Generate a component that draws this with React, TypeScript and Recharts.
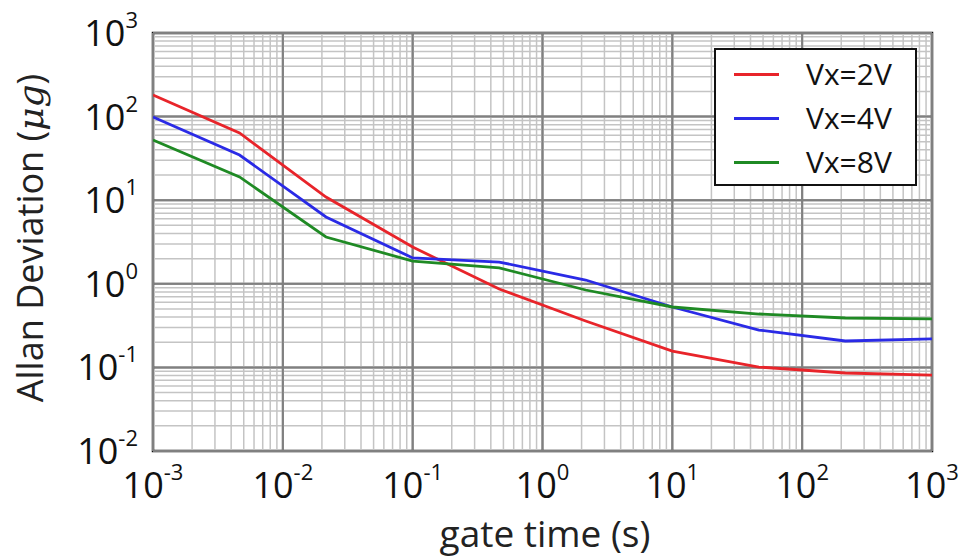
import React from "react";
import {
  LineChart,
  Line,
  XAxis,
  YAxis,
  CartesianGrid,
  ReferenceLine,
  ReferenceArea,
} from "recharts";

// gate times (s)
const tau = [0.001, 0.00464, 0.0215, 0.1, 0.464, 2.15, 10, 46.4, 215, 1000];
const vx2 = [181, 63.7, 10.9, 2.75, 0.867, 0.359, 0.157, 0.101, 0.0857, 0.081];
const vx4 = [98.9, 34.7, 6.3, 2.04, 1.82, 1.11, 0.528, 0.28, 0.207, 0.219];
const vx8 = [52.5, 19.0, 3.63, 1.87, 1.55, 0.843, 0.528, 0.435, 0.39, 0.38];

const xTicks = [1e-3, 1e-2, 1e-1, 1, 10, 100, 1000];
const yTicks = [1e-2, 1e-1, 1, 10, 100, 1000];

const seriesNames = ["Vx=2V", "Vx=4V", "Vx=8V"];
const COLORS = ["#e8242a", "#2a2ae6", "#1f8a24"];

const data = tau.map((t, i) => ({ t, v2: vx2[i], v4: vx4[i], v8: vx8[i] }));

const minors = (ticks: number[]) => {
  const out: number[] = [];
  for (let i = 0; i < ticks.length - 1; i++) {
    for (let m = 2; m <= 9; m++) out.push(+(ticks[i] * m).toPrecision(3));
  }
  return out;
};

const FONT = "'Open Sans', 'DejaVu Sans', sans-serif";

const XTick = ({ x, y, payload }: any) => {
  const e = Math.round(Math.log10(payload.value));
  return (
    <text x={x} y={y + 47} textAnchor="middle" fontSize={36} fill="#111" fontFamily={FONT}>
      <tspan>10</tspan>
      <tspan dy={-18} fontSize={22}>{e}</tspan>
    </text>
  );
};

const YTick = ({ x, y, payload }: any) => {
  const e = Math.round(Math.log10(payload.value));
  return (
    <text x={x - 15} y={y + 13} textAnchor="end" fontSize={36} fill="#111" fontFamily={FONT}>
      <tspan>10</tspan>
      <tspan dy={-18} fontSize={22}>{e}</tspan>
    </text>
  );
};

export default function App() {
  return (
    <div style={{ position: "absolute", left: 0, top: 0, width: 961, height: 560, background: "#fff" }}>
      <LineChart
        width={961}
        height={560}
        data={data}
        margin={{ top: 33, right: 29, left: 0, bottom: 0 }}
      >
        <CartesianGrid
          stroke="#808080"
          strokeWidth={2}
          horizontalValues={yTicks}
          verticalValues={xTicks}
        />
        {minors(xTicks).map((v) => (
          <ReferenceLine key={"x" + v} x={v} stroke="#c4c4c4" strokeWidth={1.5} />
        ))}
        {minors(yTicks).map((v) => (
          <ReferenceLine key={"y" + v} y={v} stroke="#c4c4c4" strokeWidth={1.5} />
        ))}
        {xTicks.map((v) => (
          <ReferenceLine key={"X" + v} x={v} stroke="#808080" strokeWidth={2} />
        ))}
        {yTicks.map((v) => (
          <ReferenceLine key={"Y" + v} y={v} stroke="#808080" strokeWidth={2} />
        ))}
        <XAxis
          dataKey="t"
          type="number"
          scale="log"
          domain={[1e-3, 1e3]}
          ticks={xTicks}
          allowDataOverflow
          height={109}
          axisLine={false}
          tickLine={false}
          tickSize={0}
          tickMargin={0}
          tick={<XTick />}
          interval={0}
        />
        <YAxis
          type="number"
          scale="log"
          domain={[1e-2, 1e3]}
          ticks={yTicks}
          allowDataOverflow
          width={153}
          axisLine={false}
          tickLine={false}
          tickSize={0}
          tickMargin={0}
          tick={<YTick />}
          interval={0}
        />
        <Line dataKey="v2" stroke={COLORS[0]} strokeWidth={2.8} dot={false} isAnimationActive={false} />
        <Line dataKey="v4" stroke={COLORS[1]} strokeWidth={2.8} dot={false} isAnimationActive={false} />
        <Line dataKey="v8" stroke={COLORS[2]} strokeWidth={2.8} dot={false} isAnimationActive={false} />
        <ReferenceArea
          x1={1e-3}
          x2={1e3}
          y1={1e-2}
          y2={1e3}
          fill="none"
          fillOpacity={0}
          stroke="#111"
          strokeWidth={2.5}
        />
      </LineChart>

      <svg style={{ position: "absolute", left: 0, top: 0 }} width={961} height={560} pointerEvents="none">
        <text x={545} y={547} textAnchor="middle" fontFamily={FONT} fontSize={37} fill="#222">
          gate time (s)
        </text>
        <text
          transform="translate(43, 238) rotate(-90)"
          textAnchor="middle"
          fontFamily={FONT}
          fontSize={36}
          fill="#222"
        >
          Allan Deviation (<tspan fontStyle="italic" fontFamily="'DejaVu Serif', serif">μg</tspan>)
        </text>
      </svg>

      <div
        style={{
          position: "absolute",
          left: 714,
          top: 48,
          width: 199,
          height: 134,
          border: "2px solid #111",
          background: "#fff",
          fontFamily: FONT,
          fontSize: 30,
          color: "#111",
        }}
      >
        {seriesNames.map((n, i) => (
          <div key={n} style={{ position: "absolute", left: 0, top: 6 + i * 44, height: 40, width: 199 }}>
            <div
              style={{
                position: "absolute",
                left: 18,
                top: 17,
                width: 45,
                height: 3,
                background: COLORS[i],
              }}
            />
            <div style={{ position: "absolute", left: 90, top: -2, lineHeight: "40px" }}>{n}</div>
          </div>
        ))}
      </div>
    </div>
  );
}
